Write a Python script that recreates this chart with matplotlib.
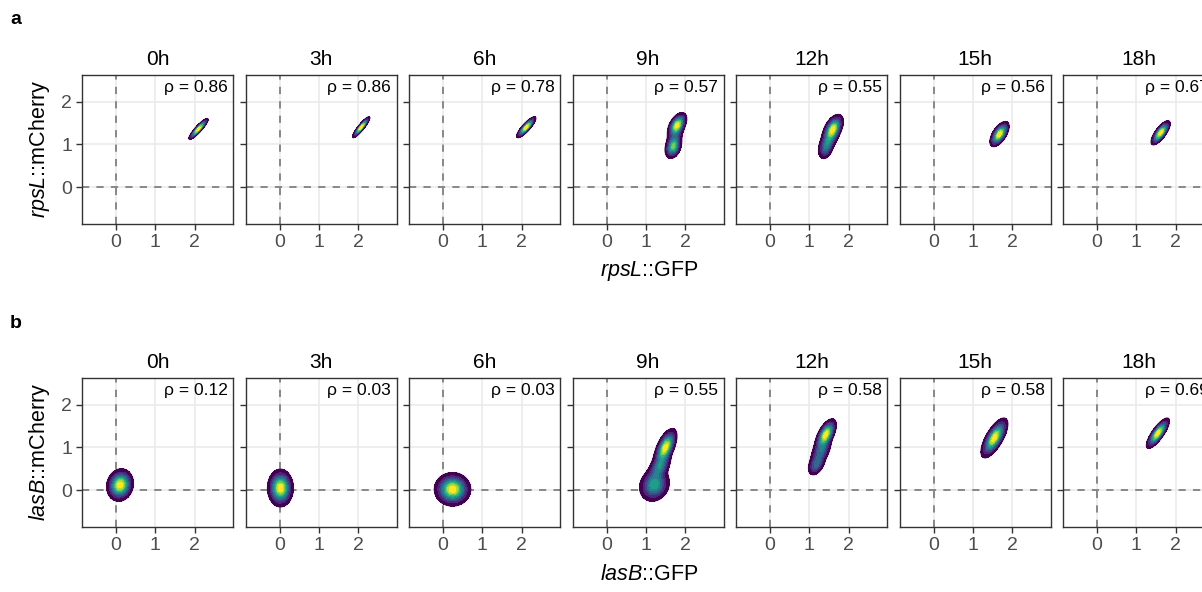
import numpy as np
import matplotlib
matplotlib.use("Agg")
import matplotlib.pyplot as plt

plt.rcParams["font.family"] = ["Liberation Sans", "DejaVu Sans"]
plt.rcParams["mathtext.fontset"] = "custom"
plt.rcParams["mathtext.rm"] = "Liberation Sans"
plt.rcParams["mathtext.it"] = "Liberation Sans:italic"

W, H = 1202, 592

timepoints = ["0h", "3h", "6h", "9h", "12h", "15h", "18h"]

# row a: rpsL reporter
rpsl_rho = [0.86, 0.86, 0.78, 0.57, 0.55, 0.56, 0.67]
# density blobs (one entry per gaussian component)
rpsl_panel = [0, 1, 2, 3, 3, 3, 4, 4, 4, 5, 6]
rpsl_mx = [2.10, 2.08, 2.12, 1.80, 1.75, 1.70, 1.60, 1.50, 1.42, 1.68, 1.62]
rpsl_my = [1.36, 1.40, 1.40, 1.45, 1.20, 0.95, 1.36, 1.10, 0.90, 1.24, 1.27]
rpsl_sx = [0.10, 0.09, 0.10, 0.10, 0.10, 0.09, 0.11, 0.11, 0.09, 0.10, 0.10]
rpsl_sy = [0.10, 0.10, 0.10, 0.12, 0.12, 0.12, 0.14, 0.13, 0.12, 0.12, 0.115]
rpsl_r = [0.90, 0.90, 0.85, 0.50, 0.40, 0.30, 0.50, 0.50, 0.30, 0.60, 0.75]
rpsl_w = [1.0, 1.0, 1.0, 0.50, 0.12, 0.38, 0.62, 0.22, 0.16, 1.0, 1.0]

# row b: lasB reporter
lasb_rho = [0.12, 0.03, 0.03, 0.55, 0.58, 0.58, 0.69]
lasb_panel = [0, 1, 2, 3, 3, 3, 4, 4, 4, 5, 6]
lasb_mx = [0.10, 0.02, 0.24, 1.50, 1.22, 1.35, 1.42, 1.30, 1.18, 1.55, 1.55]
lasb_my = [0.12, 0.05, 0.02, 1.00, 0.12, 0.55, 1.30, 0.92, 0.60, 1.22, 1.33]
lasb_sx = [0.14, 0.135, 0.19, 0.12, 0.17, 0.13, 0.11, 0.12, 0.10, 0.14, 0.12]
lasb_sy = [0.155, 0.18, 0.16, 0.18, 0.17, 0.16, 0.15, 0.16, 0.12, 0.19, 0.145]
lasb_r = [0.10, 0.0, 0.0, 0.60, 0.15, 0.50, 0.60, 0.50, 0.40, 0.70, 0.80]
lasb_w = [1.0, 1.0, 1.0, 0.50, 0.50, 0.25, 0.55, 0.28, 0.17, 1.0, 1.0]

XLIM = (-0.87, 2.98)
YLIM = (-0.86, 2.62)

gx = np.linspace(XLIM[0], XLIM[1], 400)
gy = np.linspace(YLIM[0], YLIM[1], 400)
GX, GY = np.meshgrid(gx, gy)


def density(idx, panel, mx, my, sx, sy, r, w):
    z = np.zeros_like(GX)
    for k in range(len(panel)):
        if panel[k] != idx:
            continue
        dx = (GX - mx[k]) / sx[k]
        dy = (GY - my[k]) / sy[k]
        q = (dx**2 - 2 * r[k] * dx * dy + dy**2) / (1 - r[k] ** 2)
        z += w[k] * np.exp(-0.5 * q) / (sx[k] * sy[k] * np.sqrt(1 - r[k] ** 2))
    return z / z.max()


levels = np.linspace(0.05, 1.0, 11)
colors = plt.cm.viridis(np.linspace(0, 1, len(levels) - 1))


def fx(px):
    return px / W


def fy(py):
    return 1 - py / H


fig = plt.figure(figsize=(W / 100, H / 100), dpi=100)

rows = [
    ("a", 75, "rpsL", rpsl_rho, (rpsl_panel, rpsl_mx, rpsl_my, rpsl_sx, rpsl_sy, rpsl_r, rpsl_w)),
    ("b", 378, "lasB", lasb_rho, (lasb_panel, lasb_mx, lasb_my, lasb_sx, lasb_sy, lasb_r, lasb_w)),
]

for letter, top, gene, rho, comps in rows:
    bottom = top + 149
    fig.text(fx(10), fy(top - 55), letter, fontsize=14, fontweight="bold", ha="left", va="center")
    fig.text(fx(40), fy(top + 74), r"$\it{" + gene + r"}$::mCherry", rotation=90,
             fontsize=15.5, ha="center", va="center")
    fig.text(fx(649), fy(top + 196), r"$\it{" + gene + r"}$::GFP",
             fontsize=15.5, ha="center", va="center")
    for i, tp in enumerate(timepoints):
        left = 82 + i * 163.5
        ax = fig.add_axes([fx(left), fy(bottom), 151 / W, 149 / H])
        ax.set_xlim(XLIM)
        ax.set_ylim(YLIM)
        ax.set_xticks([0, 1, 2])
        ax.set_yticks([0, 1, 2])
        ax.grid(True, color="#ebebeb", lw=1.2, zorder=0)
        ax.set_axisbelow(True)
        ax.axvline(0, color="#808080", lw=1.3, ls=(0, (4, 4)), zorder=1)
        ax.axhline(0, color="#808080", lw=1.3, ls=(0, (4, 4)), zorder=1)
        z = density(i, *comps)
        ax.contourf(GX, GY, z, levels=levels, colors=colors, zorder=2)
        ax.contour(GX, GY, z, levels=[levels[0]], colors=[colors[0]], linewidths=0.8, zorder=3)
        ax.text(0.965, 0.965, "ρ = %.2f" % rho[i], transform=ax.transAxes,
                ha="right", va="top", fontsize=12.5, zorder=4)
        ax.set_title(tp, fontsize=15, pad=7)
        for s in ax.spines.values():
            s.set_color("#333333")
            s.set_linewidth(1.0)
        ax.tick_params(colors="#333333", labelcolor="#4d4d4d", labelsize=14,
                       length=4, width=1.0, pad=3)
        if i > 0:
            ax.set_yticklabels([])

fig.savefig("out.png", dpi=100)
